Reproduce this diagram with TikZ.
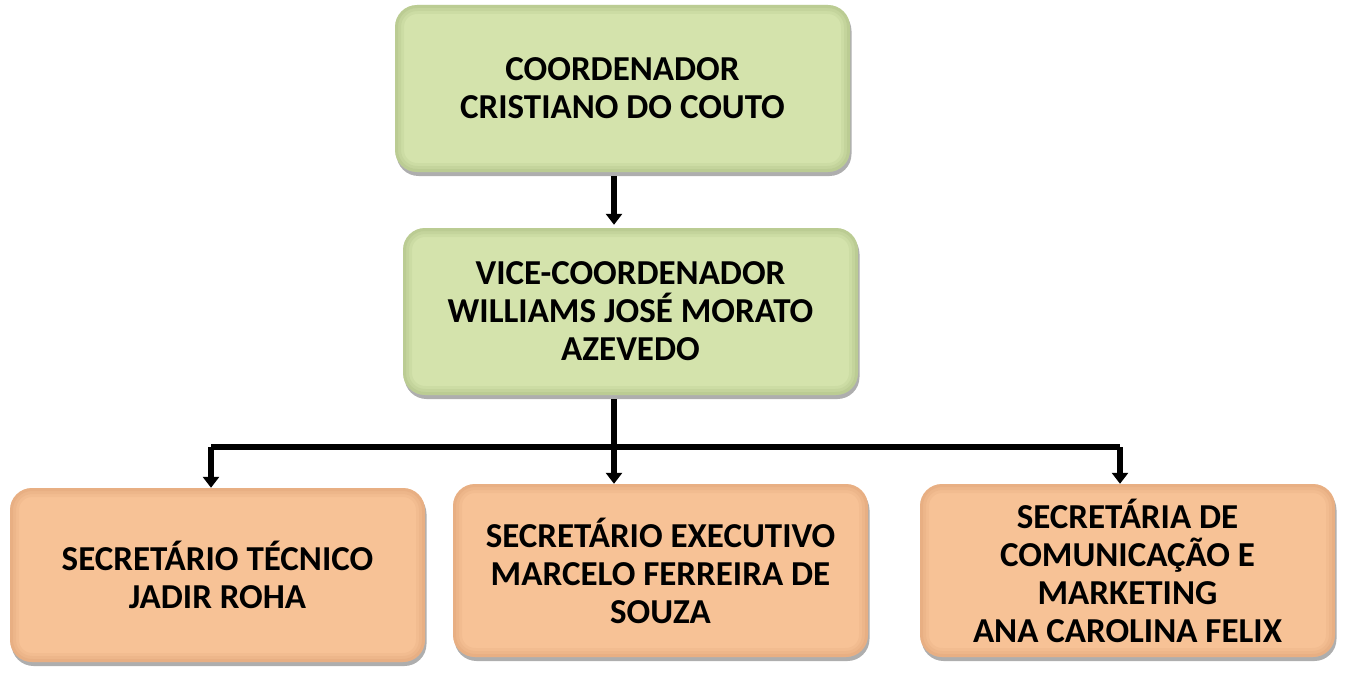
\documentclass[tikz,border=0pt]{standalone}
\usepackage{fontspec}
\setmainfont{Carlito}
\usetikzlibrary{arrows.meta,shadows}
\definecolor{gfill}{RGB}{212,227,172}
\definecolor{gdraw}{RGB}{140,160,100}
\definecolor{ofill}{RGB}{247,194,150}
\definecolor{odraw}{RGB}{205,140,95}
\newcommand{\bevel}[1]{%
  \foreach \w/\o in {18/0.10,12/0.12,6/0.15}{%
    \draw[#1, line width=\w pt, opacity=\o, rounded corners=22pt]
      (path picture bounding box.south west) rectangle (path picture bounding box.north east);}}
\tikzset{
  box/.style={rectangle, rounded corners=22pt, align=center,
    font=\fontsize{35}{38}\selectfont\bfseries, inner sep=4pt,
    drop shadow={shadow xshift=1.5pt, shadow yshift=-4pt, opacity=0.45, fill=black!70}},
  gbox/.style={box, fill=gfill, path picture={\bevel{gdraw}}, minimum width=455pt, minimum height=167pt},
  obox/.style={box, fill=ofill, path picture={\bevel{odraw}}, minimum width=415pt, minimum height=173pt},
  conn/.style={line width=5.5pt, black},
  arr/.style={conn, -{Triangle[width=16pt,length=11pt]}},
}
\begin{document}
\begin{tikzpicture}[x=1pt,y=-1pt]
\useasboundingbox (0,0) rectangle (1346,690);
\node[gbox] (top) at (622.5,88.5) {COORDENADOR\\CRISTIANO DO COUTO};
\node[gbox] (vice) at (630.5,311.5) {VICE-COORDENADOR\\WILLIAMS JOSÉ MORATO\\AZEVEDO};
\node[obox, minimum height=174pt] (sl) at (217.5,575) {SECRETÁRIO TÉCNICO\\JADIR ROHA};
\node[obox] (sm) at (660.5,570.5) {SECRETÁRIO EXECUTIVO\\MARCELO FERREIRA DE\\SOUZA};
\node[obox] (sr) at (1127.5,570.5) {SECRETÁRIA DE\\COMUNICAÇÃO E\\MARKETING\\ANA CAROLINA FELIX};
\coordinate (spine) at (614,0);
\coordinate (bus) at (614,447);
\coordinate (lx) at (211,0);
\coordinate (rx) at (1120,0);
\draw[arr, shorten <=4pt, shorten >=3pt] (top.south -| spine) -- (vice.north -| spine);
\draw[conn, shorten <=4pt] (vice.south -| spine) -- (bus);
\draw[conn] (bus -| lx) -- (bus -| rx);
\draw[arr] (bus -| lx) -- (sl.north -| lx);
\draw[arr] (bus) -- (sm.north -| spine);
\draw[arr] (bus -| rx) -- (sr.north -| rx);
\end{tikzpicture}
\end{document}
